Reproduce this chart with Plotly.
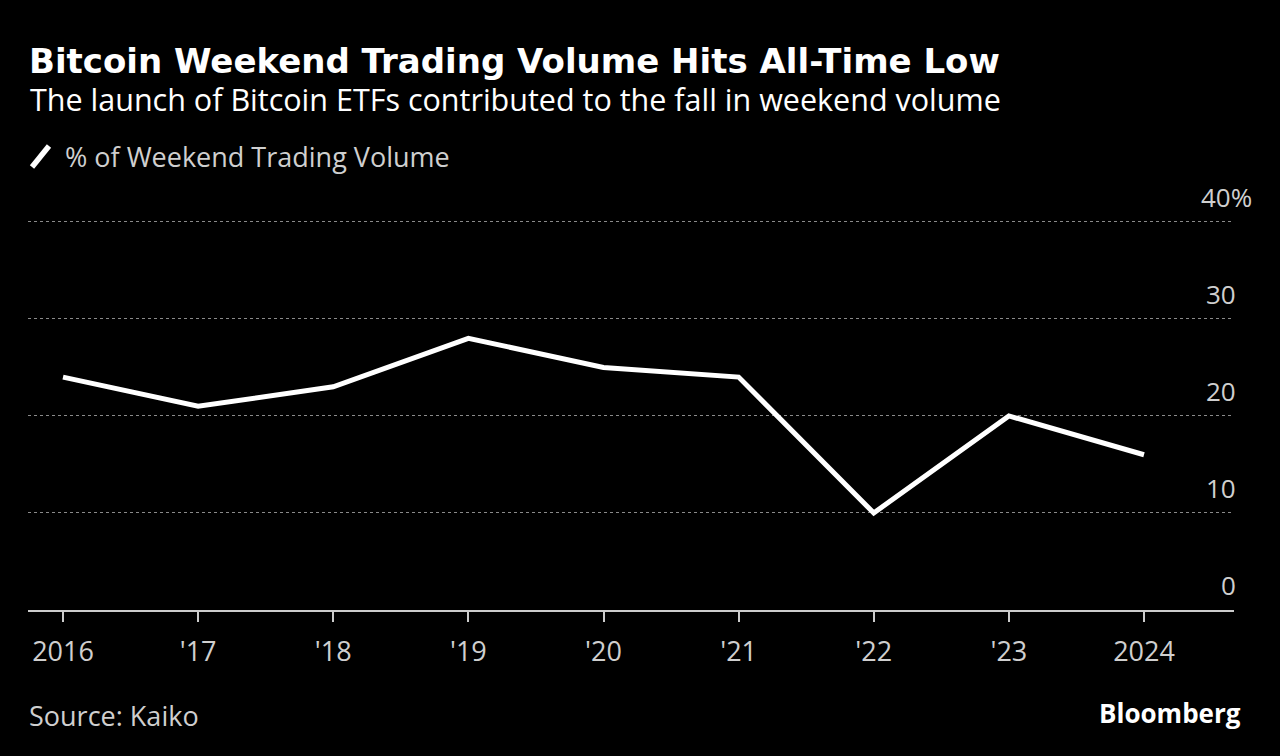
import plotly.graph_objects as go

years = [2016, 2017, 2018, 2019, 2020, 2021, 2022, 2023, 2024]
tick_labels = ["2016", "'17", "'18", "'19", "'20", "'21", "'22", "'23", "2024"]
weekend_share = [24, 21, 23, 28, 25, 24, 10, 20, 16]
y_ticks = [0, 10, 20, 30, 40]
y_tick_labels = ["0", "10", "20", "30", "40%"]

FONT = "Open Sans"
L, R, T, B = 28, 46, 217, 146
W, H = 1280, 756
pw, ph = W - L - R, H - T - B

def px(x):
    return (x - L) / pw

def py(y):
    return (H - B - y) / ph

fig = go.Figure()
fig.add_trace(go.Scatter(
    x=years, y=weekend_share, mode="lines",
    line=dict(color="white", width=5),
    showlegend=False, hoverinfo="skip"))

annotations = [
    dict(text="<b>Bitcoin Weekend Trading Volume Hits All-Time Low</b>",
         x=px(27), y=py(61), xref="paper", yref="paper", xanchor="left", yanchor="middle",
         showarrow=False, font=dict(family="DejaVu Sans", size=34, color="white")),
    dict(text="The launch of Bitcoin ETFs contributed to the fall in weekend volume",
         x=px(28), y=py(99), xref="paper", yref="paper", xanchor="left", yanchor="middle",
         showarrow=False, font=dict(family=FONT, size=30.5, color="white")),
    dict(text="% of Weekend Trading Volume",
         x=px(63), y=py(156), xref="paper", yref="paper", xanchor="left", yanchor="middle",
         showarrow=False, font=dict(family=FONT, size=27, color="#cfcfcf")),
    dict(text="Source: Kaiko",
         x=px(27), y=py(715), xref="paper", yref="paper", xanchor="left", yanchor="middle",
         showarrow=False, font=dict(family=FONT, size=27, color="#cfcfcf")),
    dict(text="<b>Bloomberg</b>",
         x=px(1243), y=py(713), xref="paper", yref="paper", xanchor="right", yanchor="middle",
         showarrow=False, font=dict(family=FONT, size=26, color="white")),
]
for v, lab in zip(y_ticks, y_tick_labels):
    right_edge = 1254 if lab.endswith("%") else 1238
    annotations.append(dict(text=lab, x=px(right_edge), y=v, xref="paper", yref="y",
                            xanchor="right", yanchor="middle", yshift=25, showarrow=False,
                            font=dict(family=FONT, size=26, color="#cfcfcf")))

shapes = [dict(type="line", xref="paper", yref="paper",
               x0=px(32), y0=py(167), x1=px(49), y1=py(146),
               line=dict(color="white", width=5.5))]

fig.update_layout(
    width=W, height=H,
    paper_bgcolor="black", plot_bgcolor="black",
    margin=dict(l=L, r=R, t=T, b=B),
    annotations=annotations, shapes=shapes,
    xaxis=dict(range=[2015.741, 2024.666], tickvals=years, ticktext=tick_labels,
               showgrid=False, zeroline=False, showline=True, linecolor="#cccccc", linewidth=2,
               ticks="outside", ticklen=10, tickwidth=2, tickcolor="#cccccc",
               ticklabelstandoff=7,
               tickfont=dict(family=FONT, size=27, color="#cfcfcf"), fixedrange=True),
    yaxis=dict(range=[0, 40.5], tickvals=[10, 20, 30, 40], showticklabels=False,
               showgrid=True, gridcolor="#8a8a8a", griddash="dot", gridwidth=1,
               zeroline=False, showline=False, fixedrange=True),
)

fig.write_html("out.html", config={"displayModeBar": False},
               post_script="document.body.style.margin='0';document.body.style.background='black';")
